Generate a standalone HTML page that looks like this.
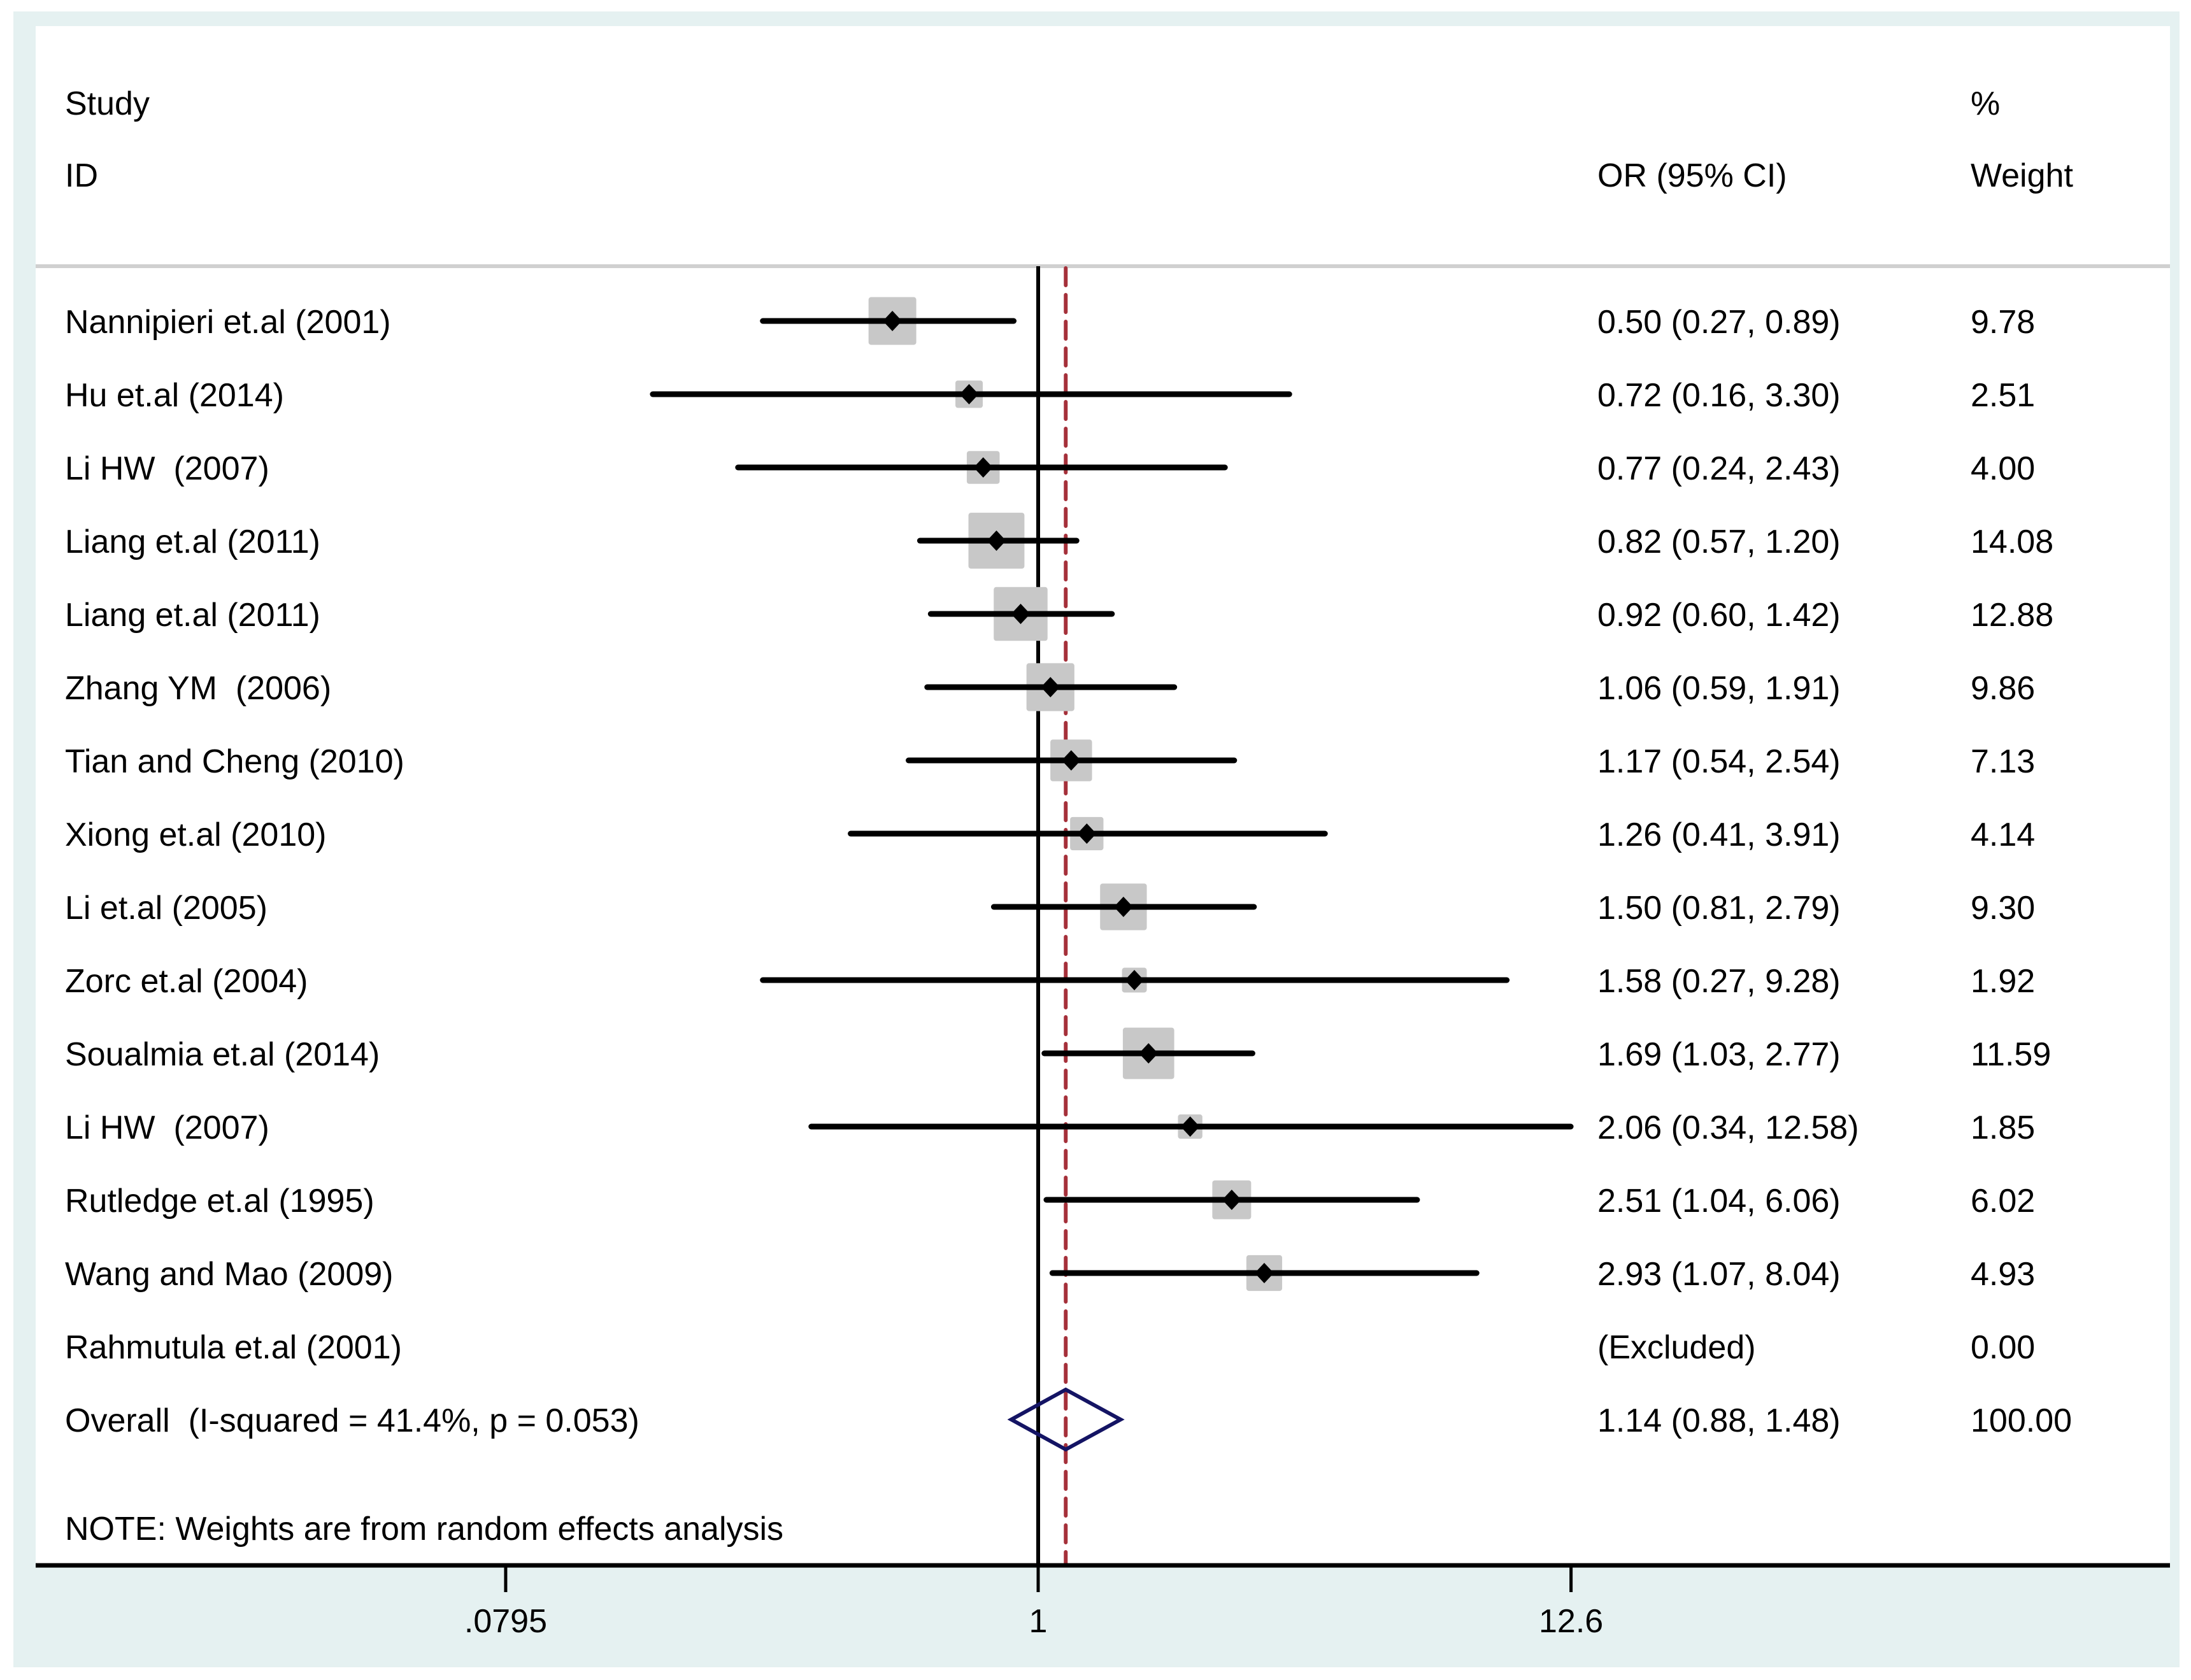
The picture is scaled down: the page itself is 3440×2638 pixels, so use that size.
<!DOCTYPE html>
<html><head><meta charset="utf-8"><style>
html,body{margin:0;padding:0;background:#fff}
svg{display:block}
text{font-family:"Liberation Sans",Arial,sans-serif;font-size:52px;fill:#000;white-space:pre}
</style></head><body>
<svg id="chart" xmlns="http://www.w3.org/2000/svg" xml:space="preserve" width="3440" height="2638" viewBox="0 0 3440 2638">
<rect x="21" y="18" width="3401" height="2600" fill="#e5f1f1"/>
<rect x="56" y="41" width="3351" height="2417" fill="#fff"/>
<text x="102" y="180">Study</text>
<text x="102" y="293">ID</text>
<text x="2508" y="293">OR (95% CI)</text>
<text x="3094" y="180">%</text>
<text x="3094" y="293">Weight</text>
<line x1="56" y1="418" x2="3407" y2="418" stroke="#d0d0d0" stroke-width="6"/>
<g id="marks"></g>
<text x="102" y="2418">NOTE: Weights are from random effects analysis</text>
<line x1="56" y1="2458" x2="3407" y2="2458" stroke="#000" stroke-width="7"/>
<g id="axis"></g>
</svg>
<script>
const studies = ["Nannipieri et.al (2001)","Hu et.al (2014)","Li HW  (2007)","Liang et.al (2011)","Liang et.al (2011)","Zhang YM  (2006)","Tian and Cheng (2010)","Xiong et.al (2010)","Li et.al (2005)","Zorc et.al (2004)","Soualmia et.al (2014)","Li HW  (2007)","Rutledge et.al (1995)","Wang and Mao (2009)","Rahmutula et.al (2001)"];
const orVals = [0.50,0.72,0.77,0.82,0.92,1.06,1.17,1.26,1.50,1.58,1.69,2.06,2.51,2.93,null];
const loVals = [0.27,0.16,0.24,0.57,0.60,0.59,0.54,0.41,0.81,0.27,1.03,0.34,1.04,1.07,null];
const hiVals = [0.89,3.30,2.43,1.20,1.42,1.91,2.54,3.91,2.79,9.28,2.77,12.58,6.06,8.04,null];
const weights = [9.78,2.51,4.00,14.08,12.88,9.86,7.13,4.14,9.30,1.92,11.59,1.85,6.02,4.93,0.00];
const overall = {or:1.14, lo:0.88, hi:1.48, label:"Overall  (I-squared = 41.4%, p = 0.053)", weight:"100.00"};
const ticks = [0.0795, 1, 12.6];
const tickLabels = [".0795","1","12.6"];

const NS="http://www.w3.org/2000/svg";
const X0=1630, DEC=760.3;
const xs = v => X0 + Math.log10(v)*DEC;
const ys = i => 504 + i*115;
const marks=document.getElementById('marks');
function mk(tag, attrs, parent){const e=document.createElementNS(NS,tag);for(const k in attrs)e.setAttribute(k,attrs[k]);(parent||marks).appendChild(e);return e;}
const fmt=v=>v.toFixed(2);

const nl=mk('line',{x1:X0,y1:418,x2:X0,y2:2458,stroke:'#000','stroke-width':6});


const ol=mk('line',{x1:xs(overall.or),y1:421,x2:xs(overall.or),y2:2458,stroke:'#a5303a','stroke-width':6,'stroke-dasharray':'27 15','stroke-linecap':'round'});



studies.forEach((s,i)=>{
  const y=ys(i);
  const t=mk('text',{x:102,y:y+19}); t.textContent=s;
  
  
  const o=mk('text',{x:2508,y:y+19});
  o.textContent = orVals[i]==null ? "(Excluded)" : `${fmt(orVals[i])} (${fmt(loVals[i])}, ${fmt(hiVals[i])})`;
  
  
  const w=mk('text',{x:3094,y:y+19}); w.textContent=fmt(weights[i]);
  
  
  if(orVals[i]==null) return;
  const cx=xs(orVals[i]);
  const side=10.2+20.7*Math.sqrt(weights[i]);
  const b=mk('rect',{x:cx-side/2,y:y-side/2,width:side,height:side,rx:4,fill:'#c8c8c8'});
  
  
  const l=mk('line',{x1:xs(loVals[i]),y1:y,x2:xs(hiVals[i]),y2:y,stroke:'#000','stroke-width':9,'stroke-linecap':'round'});
  
  
  const d=mk('polygon',{points:`${cx-15},${y} ${cx},${y-16} ${cx+15},${y} ${cx},${y+16}`,fill:'#000'});
  
  
});
const oy=ys(studies.length);
const ot=mk('text',{x:102,y:oy+19}); ot.textContent=overall.label;


const ov=mk('text',{x:2508,y:oy+19}); ov.textContent=`${fmt(overall.or)} (${fmt(overall.lo)}, ${fmt(overall.hi)})`;


const ow=mk('text',{x:3094,y:oy+19}); ow.textContent=overall.weight;


const od=mk('polygon',{points:`${xs(overall.lo)},${oy} ${xs(overall.or)},${oy-47} ${xs(overall.hi)},${oy} ${xs(overall.or)},${oy+47}`,fill:'none',stroke:'#141464','stroke-width':6});



const axis=document.getElementById('axis');
ticks.forEach((v,i)=>{
  const x=xs(v);
  const tk=mk('line',{x1:x,y1:2458,x2:x,y2:2500,stroke:'#000','stroke-width':5},axis);
  
  
  const tl=mk('text',{x:x,y:2563,'text-anchor':'middle'},axis); tl.textContent=tickLabels[i];
  
  
});
</script>
</body></html>
